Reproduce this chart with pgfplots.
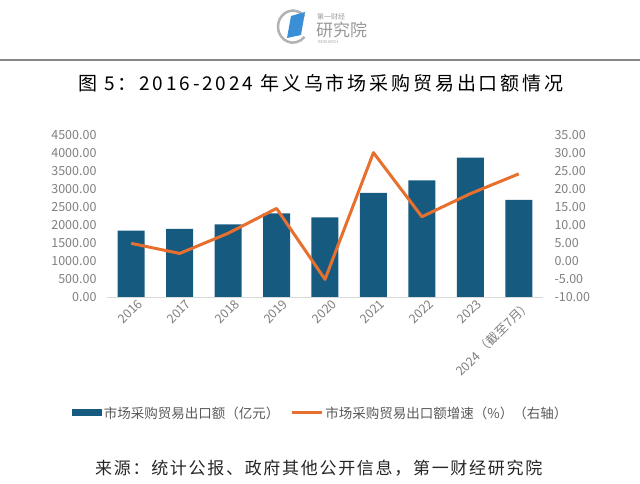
\documentclass[border=0pt]{standalone}
\usepackage{pgfplots}
\pgfplotsset{compat=1.18}
\usepackage{fontspec}
\setmainfont{Noto Sans CJK SC}
\definecolor{barblue}{HTML}{175A80}
\definecolor{lineorange}{HTML}{E8702E}
\definecolor{tickgray}{HTML}{7F7F7F}
\definecolor{textgray}{HTML}{595959}
\definecolor{axisgray}{HTML}{D9D9D9}
\definecolor{logoblue}{HTML}{3A8FD6}
\begin{document}
\begin{tikzpicture}[x=1pt,y=1pt]
\path[use as bounding box] (0,0) rectangle (640,484);
% logo
\draw[gray!60, line width=2.5pt] (293,458) ++(40:15) arc[start angle=40, end angle=320, x radius=15, y radius=16];
\fill[logoblue] (287,446) -- (291,468) -- (305,472) -- (301,449) -- cycle;
\node[anchor=west, inner sep=0, text=gray!80, font=\fontsize{7}{7}\selectfont] at (317,467) {第一财经};
\node[anchor=west, inner sep=0, text=gray!80, font=\fontsize{17}{17}\selectfont] at (316,454) {研究院};
\node[anchor=west, inner sep=0, text=gray!70, font=\fontsize{4}{4}\selectfont] at (318,442) {RESEARCH};
% rule
\draw[line width=2.5pt, color=gray!95] (0,424) -- (640,424);
% title
\node[anchor=west, inner sep=0, font=\fontsize{19}{19}\selectfont\addfontfeature{LetterSpace=15}] at (78,401) {图 5：2016-2024 年义乌市场采购贸易出口额情况};
% source
\node[anchor=west, inner sep=0, text=black!85, font=\fontsize{17}{17}\selectfont\addfontfeature{LetterSpace=10}] at (95,16) {来源：统计公报、政府其他公开信息，第一财经研究院};

\begin{axis}[
  at={(107pt,187pt)}, anchor=south west, scale only axis,
  width=436pt, height=162pt,
  xmin=-0.5, xmax=8.5, ymin=0, ymax=4500,
  axis x line*=bottom, axis y line*=left,
  x axis line style={draw=axisgray, line width=0.8pt},
  y axis line style={draw=none},
  major tick length=0pt,
  xtick={0,1,2,3,4,5,6,7,8},
  xticklabels={2016,2017,2018,2019,2020,2021,2022,2023,{2024 （截至7月）}},
  xticklabel style={rotate=45, anchor=north east, text=tickgray, font=\fontsize{12.5}{12.5}\selectfont, inner sep=1pt, yshift=-4pt, xshift=4pt},
  ytick={0,500,...,4500},
  yticklabel style={text=tickgray, font=\fontsize{12.5}{12.5}\selectfont, /pgf/number format/fixed, /pgf/number format/fixed zerofill, /pgf/number format/precision=2, /pgf/number format/1000 sep={}, /pgf/number format/assume math mode=true, xshift=-7pt},
  legend style={at={(0.49,-0.716)}, anchor=center, draw=none, fill=none, legend columns=2, font=\fontsize{13.5}{13.5}\selectfont, text=textgray, /tikz/every even column/.append style={column sep=9pt}, inner sep=0pt},
  legend cell align=left,
]
\addplot[ybar, bar width=27pt, fill=barblue, draw=none, legend image code/.code={\fill[barblue] (0pt,-3.5pt) rectangle (30pt,3.5pt);}] coordinates {(0,1842) (1,1889) (2,2019) (3,2325) (4,2213) (5,2889) (6,3242) (7,3870) (8,2695)};
\addlegendentry{市场采购贸易出口额（亿元）}
\addlegendimage{legend image code/.code={\draw[lineorange, line width=3pt] (0pt,0pt) -- (30pt,0pt);}}
\addlegendentry{市场采购贸易出口额增速（\%）（右轴）}
\end{axis}

\begin{axis}[
  at={(107pt,187pt)}, anchor=south west, scale only axis,
  width=436pt, height=162pt,
  xmin=-0.5, xmax=8.5, ymin=-10, ymax=35,
  axis y line*=right, hide x axis,
  y axis line style={draw=none},
  major tick length=0pt,
  ytick={-10,-5,...,35},
  yticklabel style={text=tickgray, font=\fontsize{12.5}{12.5}\selectfont, /pgf/number format/fixed, /pgf/number format/fixed zerofill, /pgf/number format/precision=2, /pgf/number format/assume math mode=true, xshift=8pt},
]
\addplot[lineorange, line width=3pt, line join=round, no marks] coordinates {(0,4.9) (1,2.1) (2,7.7) (3,14.6) (4,-5.1) (5,30.1) (6,12.3) (7,18.7) (8,24.2)};
\end{axis}
\end{tikzpicture}
\end{document}
